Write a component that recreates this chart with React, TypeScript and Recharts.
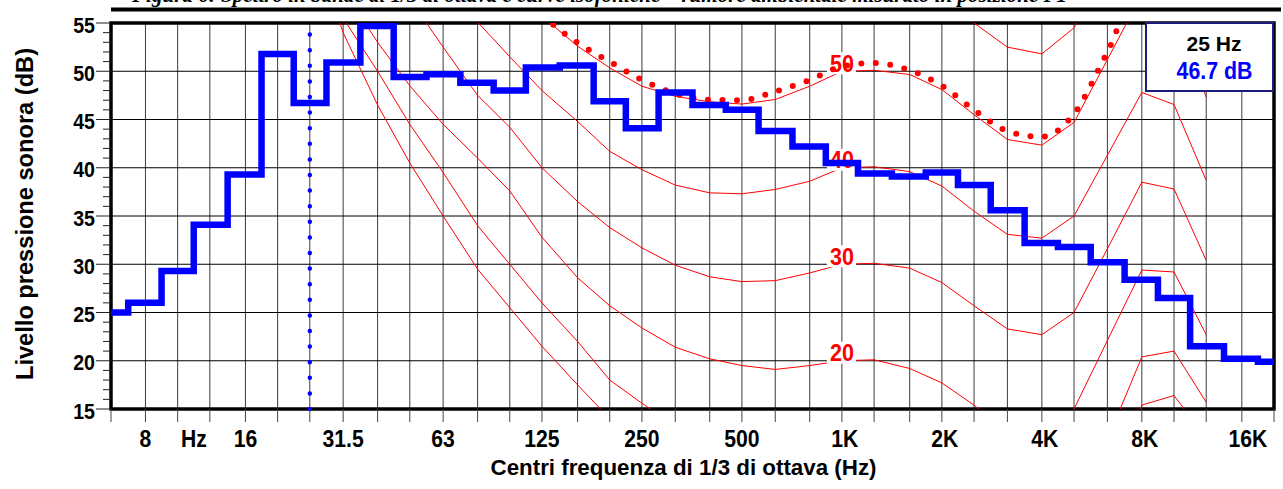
import React from "react";
import { CartesianGrid, Line, LineChart, ReferenceArea, ReferenceLine, XAxis, YAxis } from "recharts";

// 1/3 octave band centres (Hz) and measured spectrum (dB)
const BANDS = [6.3, 8, 10, 12.5, 16, 20, 25, 31.5, 40, 50, 63, 80, 100, 125, 160, 200, 250, 315, 400, 500, 630, 800, 1000, 1250, 1600, 2000, 2500, 3150, 4000, 5000, 6300, 8000, 10000, 12500, 16000, 20000];
const LEVELS = [25.0, 26.0, 29.3, 34.1, 39.3, 51.8, 46.7, 50.9, 54.7, 49.4, 49.7, 48.8, 48.0, 50.4, 50.6, 46.9, 44.1, 47.8, 46.5, 46.0, 43.8, 42.2, 40.5, 39.4, 39.1, 39.5, 38.2, 35.6, 32.2, 31.8, 30.2, 28.4, 26.5, 21.5, 20.2, 19.9];

const SELECTED_BAND = 25;

// equal loudness contours (phon), sampled at the ISO frequencies
const ISO_FREQ = [20, 25, 31.5, 40, 50, 63, 80, 100, 125, 160, 200, 250, 315, 400, 500, 630, 800, 1000, 1250, 1600, 2000, 2500, 3150, 4000, 5000, 6300, 8000, 10000, 12500];
const PHON_0 = [74, 64, 54, 46.5, 40.5, 35, 29.5, 25.5, 21.5, 17.5, 14, 11, 8.5, 6, 4.5, 3, 2.5, 2.5, 3, 2, -1, -3.5, -5, -4.5, -1, 6.5, 15.4, 16.4, 12];
const PHON_10 = [76, 66, 55.5, 50, 44.5, 39.5, 34, 30, 26, 22, 18, 15.6, 13.2, 11.5, 10.5, 9.8, 9.8, 10, 10.5, 9.5, 7, 4, 2.5, 3, 6, 11.8, 20.4, 21.0, 15.7];
const PHON_20 = [80, 70, 58.5, 53, 48.5, 44.5, 41, 37.6, 32.8, 28.6, 25.7, 23.4, 21.4, 20.2, 19.5, 19.1, 19.5, 20, 20.1, 19.2, 17.7, 15.4, 12.5, 12, 15.0, 22.1, 29.4, 29.2, 22.7];
const PHON_30 = [84, 78, 71, 64, 57.5, 52.5, 47.5, 44.2, 40, 36.5, 33.8, 31.7, 29.9, 28.7, 28.2, 28.3, 29.1, 30, 30.1, 29.6, 28.1, 25.7, 23.3, 22.7, 25.0, 31.6, 38.5, 37.8, 30.4];
const PHON_40 = [90, 84, 78, 72, 66, 60, 55.1, 51.5, 48, 44.8, 41.7, 39.8, 38.2, 37.4, 37.3, 37.75, 38.6, 40, 40.1, 39.6, 38.1, 35.5, 33.1, 32.7, 35.0, 41.3, 47.8, 46.55, 38.7];
const PHON_50 = [96, 90, 84, 78, 73, 68, 63, 59, 55.7, 52.6, 50.35, 48.45, 47.4, 46.83, 46.6, 47.07, 48.45, 50, 50.1, 49.66, 48.1, 45.5, 42.93, 42.34, 44.7, 51.2, 58, 57, 47.3];
const PHON_60 = [100, 95, 90, 85, 80, 76, 72, 68, 65.5, 63, 61, 59.5, 58.3, 57.7, 57.5, 57.8, 58.6, 60, 60.2, 59.7, 58, 55.0, 52.5, 51.8, 54.5, 61, 68, 67, 57];
// contour through the measured spectrum (dotted)
const TONE_CONTOUR = [97, 91, 85, 79, 74, 69, 64, 59.8, 55.9, 52.95, 51.0, 49.1, 47.7, 47.05, 47.0, 47.9, 49.1, 50.5, 50.85, 50.1, 48.5, 46.0, 43.8, 43.2, 45.6, 52.0, 59, 58, 50];

const LABELLED_PHONS = [20, 30, 40, 50];
const LABEL_FREQ = 1000;

const X_LABELS: Record<number, string> = {
  8: "8", 16: "16", 31.5: "31.5", 63: "63", 125: "125", 250: "250", 500: "500",
  1000: "1K", 2000: "2K", 4000: "4K", 8000: "8K", 16000: "16K",
};
const HZ_MARK = 11.2;
const Y_MAJOR = [15, 20, 25, 30, 35, 40, 45, 50, 55];
const Y_TICKS = Array.from({ length: 41 }, (_, i) => 15 + i);

const CAPTION = "Figura 6: Spettro in bande di 1/3 di ottava e curve isofoniche – rumore ambientale misurato in posizione P1";

const FONT = "'Liberation Sans', Arial, sans-serif";
const RED = "#ff0000";
const BLUE = "#0000ff";

// Arial bold advance widths (em) for the label glyphs
const AB: Record<string, number> = { ".": 0.278, K: 0.722, H: 0.722, z: 0.5, " ": 0.278, d: 0.611, B: 0.722 };
const fit = (s: string, size: number, squeeze: number) =>
  [...s].reduce((w, c) => w + (AB[c] ?? 0.556), 0) * size * squeeze;

function FreqTick(props: any) {
  const { x, y, payload } = props;
  const v = payload.value;
  if (v === HZ_MARK) {
    return (
      <text x={x} y={y + 37.5} textAnchor="middle" fontSize={23} fontWeight="bold" fontFamily={FONT} fill="#000"
        textLength={fit("Hz", 23, 0.92)} lengthAdjust="spacingAndGlyphs">Hz</text>
    );
  }
  const label = X_LABELS[v];
  const dx = label && label.endsWith("K") ? (v === 16000 ? 6 : 3) : 0;
  return (
    <g>
      <line x1={x} x2={x} y1={y} y2={y + 13} stroke="#444" strokeWidth={1} />
      {label && (
        <text x={x + dx} y={y + 37.5} textAnchor="middle" fontSize={23} fontWeight="bold" fontFamily={FONT} fill="#000"
          textLength={fit(label, 23, 0.92)} lengthAdjust="spacingAndGlyphs">{label}</text>
      )}
    </g>
  );
}

function LevelTick(props: any) {
  const { x, y, payload } = props;
  const v = payload.value;
  const major = Y_MAJOR.includes(v);
  return (
    <g>
      <line x1={x - (major ? 15 : 8)} x2={x} y1={y} y2={y} stroke="#222" strokeWidth={1} />
      {major && (
        <text x={x - 16} y={y + 9.5} textAnchor="end" fontSize={22.5} fontWeight="bold" fontFamily={FONT} fill="#000"
          textLength={fit(String(v), 22.5, 0.87)} lengthAdjust="spacingAndGlyphs">{v}</text>
      )}
    </g>
  );
}

const XTitle = (props: any) => {
  const vb = props.viewBox || {};
  return (
    <text x={vb.x + vb.width / 2 - 9} y={vb.y + 65.5} textAnchor="middle" fontSize={22} fontWeight="bold" fontFamily={FONT}
      fill="#000" textLength={386} lengthAdjust="spacingAndGlyphs">Centri frequenza di 1/3 di ottava (Hz)</text>
  );
};

const YTitle = (props: any) => {
  const vb = props.viewBox || {};
  const cy = vb.y + vb.height / 2 - 2;
  return (
    <text transform={`translate(${vb.x + 32.5},${cy}) rotate(-90)`} textAnchor="middle" fontSize={23} fontWeight="bold"
      fontFamily={FONT} fill="#000" textLength={332} lengthAdjust="spacingAndGlyphs">Livello pressione sonora (dB)</text>
  );
};

const phonLabel = (phon: number) => (p: any) => {
  if (!LABELLED_PHONS.includes(phon)) return null;
  const idx = p.index;
  if (idx !== undefined ? ISO_FREQ[idx] !== LABEL_FREQ : p.value !== phon) return null;
  const x = p.x ?? p.viewBox?.x;
  const y = p.y ?? p.viewBox?.y;
  if (x === undefined || y === undefined) return null;
  return (
    <g>
      <rect x={x - 15} y={y - 19} width={29} height={22} fill="#fff" />
      <text x={x} y={y + 0.5} textAnchor="middle" fontSize={23} fontWeight="bold" fontFamily={FONT} fill={RED}
        textLength={24} lengthAdjust="spacingAndGlyphs">{phon}</text>
    </g>
  );
};

export default function App() {
  const spectrum = BANDS.map((f, i) => ({ f, db: LEVELS[i] }));
  const contours = [
    { phon: 0, values: PHON_0 },
    { phon: 10, values: PHON_10 },
    { phon: 20, values: PHON_20 },
    { phon: 30, values: PHON_30 },
    { phon: 40, values: PHON_40 },
    { phon: 50, values: PHON_50 },
    { phon: 60, values: PHON_60 },
  ].map((c) => ({ phon: c.phon, rows: ISO_FREQ.map((f, i) => ({ f, db: c.values[i] })) }));
  const tone = ISO_FREQ.map((f, i) => ({ f, db: TONE_CONTOUR[i] }));
  const selectedLevel = LEVELS[BANDS.indexOf(SELECTED_BAND)];

  return (
    <div style={{ position: "absolute", left: 0, top: 0, width: 1283, height: 489, overflow: "hidden", background: "#fff", fontFamily: FONT }}>
      <svg width={1283} height={24} style={{ position: "absolute", left: 0, top: 0 }}>
        <text x={132} y={1.5} fontFamily="'Liberation Serif', 'Times New Roman', serif" fontStyle="italic" fontWeight="bold"
          fontSize={22} fill="#000" textLength={935} lengthAdjust="spacingAndGlyphs">{CAPTION}</text>
        <rect x={111} y={7.5} width={1170} height={4} fill="#000" />
      </svg>

      <div style={{ position: "absolute", left: 0, top: 0 }}>
        <LineChart width={1283} height={489} margin={{ top: 23, right: 9, bottom: 0, left: 0 }}>
          <CartesianGrid horizontal={false} verticalValues={BANDS} stroke="#3c3c3c" strokeWidth={1} />
          <CartesianGrid vertical={false} horizontalValues={Y_MAJOR} stroke="#000" strokeWidth={1} />
          <XAxis dataKey="f" type="number" scale="log" domain={[6.3, 20000]} allowDataOverflow
            ticks={[...BANDS, HZ_MARK].sort((a, b) => a - b)} interval={0} height={80}
            axisLine={false} tickLine={false} tickSize={0} tickMargin={0} tick={FreqTick} label={XTitle} />
          <YAxis type="number" domain={[15, 55]} allowDataOverflow ticks={Y_TICKS} interval={0} width={111}
            axisLine={false} tickLine={false} tickSize={0} tickMargin={0} tick={LevelTick} label={YTitle} />

          {contours.map((c) => (
            <Line key={c.phon} data={c.rows} dataKey="db" type="linear" stroke={RED} strokeWidth={1}
              dot={false} activeDot={false} isAnimationActive={false} label={phonLabel(c.phon)} />
          ))}
          <Line data={tone} dataKey="db" type="monotone" stroke={RED} strokeWidth={6} strokeDasharray="0 14.5"
            strokeLinecap="round" dot={false} activeDot={false} isAnimationActive={false} {...({ zIndex: 2100 } as any)} />

          <ReferenceLine x={SELECTED_BAND} stroke={BLUE} strokeWidth={4.5} strokeDasharray="0 15.6" strokeLinecap="round" />
          <ReferenceArea x1={6.3} x2={20000} y1={15} y2={55} fill="none" fillOpacity={0} stroke="#000" strokeWidth={3.5} />

          <Line data={spectrum} dataKey="db" type="step" stroke={BLUE} strokeWidth={6.5} dot={false} activeDot={false}
            isAnimationActive={false} {...({ zIndex: 2200 } as any)} />
        </LineChart>
      </div>

      <svg width={129} height={70} style={{ position: "absolute", left: 1145, top: 22 }}>
        <rect x={1} y={1} width={127} height={68} fill="#fff" stroke="#1c1c7c" strokeWidth={2} />
        <text x={69} y={28.5} textAnchor="middle" fontSize={21} fontWeight="bold" fontFamily={FONT} fill="#000"
          textLength={55} lengthAdjust="spacingAndGlyphs">{`${SELECTED_BAND} Hz`}</text>
        <text x={69.5} y={56.5} textAnchor="middle" fontSize={23} fontWeight="bold" fontFamily={FONT} fill={BLUE}
          textLength={76} lengthAdjust="spacingAndGlyphs">{`${selectedLevel.toFixed(1)} dB`}</text>
      </svg>
    </div>
  );
}
